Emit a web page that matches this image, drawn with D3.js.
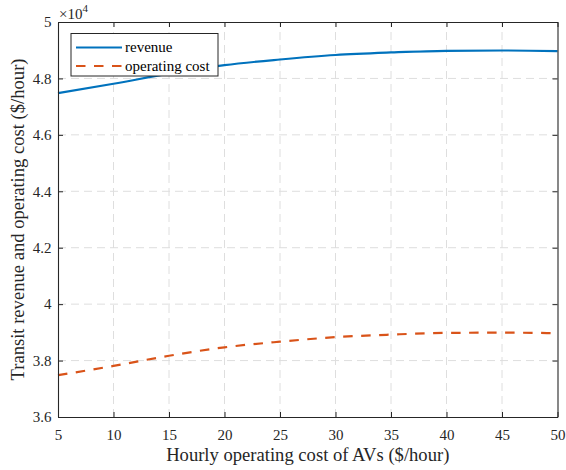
<!DOCTYPE html>
<html>
<head>
<meta charset="utf-8">
<script src="https://cdn.jsdelivr.net/npm/d3@7"></script>
<style>
  html, body { margin: 0; padding: 0; background: #fff; }
  svg { display: block; font-family: "Liberation Serif", "Times New Roman", serif; }
</style>
</head>
<body>
<svg id="chart" width="566" height="470"></svg>
<script>
// Hourly operating cost of AVs ($/hour)
const avCost = [5, 10, 15, 20, 25, 30, 35, 40, 45, 50];
// Transit revenue and operating cost, in units of 10^4 $/hour
const revenue = [4.748, 4.781, 4.817, 4.847, 4.867, 4.883, 4.892, 4.898, 4.899, 4.897];
const operatingCost = [3.748, 3.781, 3.817, 3.847, 3.867, 3.883, 3.892, 3.898, 3.899, 3.897];
const xTicks = [5, 10, 15, 20, 25, 30, 35, 40, 45, 50];
const yTicks = [3.6, 3.8, 4, 4.2, 4.4, 4.6, 4.8, 5];
const seriesNames = ["revenue", "operating cost"];

const svg = d3.select("#chart");
const margin = { left: 58, right: 8.5, top: 22, bottom: 53 };
const W = 566, H = 470;
const x0 = margin.left, x1 = W - margin.right, y0 = H - margin.bottom, y1 = margin.top;
const FONT = "Liberation Serif, Times New Roman, serif";

const x = d3.scaleLinear().domain([5, 50]).range([x0, x1]);
const y = d3.scaleLinear().domain([3.6, 5]).range([y0, y1]);

// grid
const grid = svg.append("g").attr("stroke", "#dedede").attr("stroke-width", 1)
  .attr("stroke-dasharray", "8,5");
grid.selectAll(".gx").data(xTicks.slice(1, -1)).join("line")
  .attr("x1", d => x(d)).attr("x2", d => x(d)).attr("y1", y0).attr("y2", y1);
grid.selectAll(".gy").data(yTicks.slice(1, -1)).join("line")
  .attr("y1", d => y(d)).attr("y2", d => y(d)).attr("x1", x0).attr("x2", x1);

// lines
const line = d3.line().x((d, i) => x(avCost[i])).y(d => y(d)).curve(d3.curveMonotoneX);
svg.append("path").datum(revenue).attr("d", line)
  .attr("fill", "none").attr("stroke", "#0072BD").attr("stroke-width", 2.2);
svg.append("path").datum(operatingCost).attr("d", line)
  .attr("fill", "none").attr("stroke", "#D95319").attr("stroke-width", 2.2)
  .attr("stroke-dasharray", "9.5,8.5");

// axes (box with inward ticks)
const axisColor = "#262626";
const fmt = d => d3.format("")(d);
const axBottom = svg.append("g").attr("transform", `translate(0,${y0})`)
  .call(d3.axisBottom(x).tickValues(xTicks).tickSizeInner(-5).tickSizeOuter(0).tickPadding(12).tickFormat(fmt));
const axTop = svg.append("g").attr("transform", `translate(0,${y1})`)
  .call(d3.axisTop(x).tickValues(xTicks).tickSizeInner(-5).tickSizeOuter(0).tickFormat(""));
const axLeft = svg.append("g").attr("transform", `translate(${x0},0)`)
  .call(d3.axisLeft(y).tickValues(yTicks).tickSizeInner(-5).tickSizeOuter(0).tickPadding(6.5).tickFormat(fmt));
const axRight = svg.append("g").attr("transform", `translate(${x1},0)`)
  .call(d3.axisRight(y).tickValues(yTicks).tickSizeInner(-5).tickSizeOuter(0).tickFormat(""));
[axBottom, axTop, axLeft, axRight].forEach(g => {
  g.attr("font-family", FONT).attr("font-size", 15);
  g.select(".domain").attr("stroke", axisColor).attr("stroke-width", 1.1);
  g.selectAll(".tick line").attr("stroke", axisColor).attr("stroke-width", 1);
  g.selectAll("text").attr("fill", "#262626");
});

// exponent label
const ex = svg.append("text").attr("x", x0 + 1).attr("y", 19)
  .attr("font-size", 15).attr("fill", "#262626");
ex.append("tspan").text("\u00d710");
ex.append("tspan").attr("dy", -7).attr("font-size", 11).text("4");

// axis titles
svg.append("text").attr("x", (x0 + x1) / 2).attr("y", 461)
  .attr("text-anchor", "middle").attr("font-size", 18.6).attr("fill", "#262626")
  .text("Hourly operating cost of AVs ($/hour)");
svg.append("text").attr("transform", `translate(24,${(y0 + y1) / 2}) rotate(-90)`)
  .attr("text-anchor", "middle").attr("font-size", 18.6).attr("fill", "#262626")
  .text("Transit revenue and operating cost ($/hour)");

// legend
const lg = svg.append("g");
lg.append("rect").attr("x", 71).attr("y", 33.5).attr("width", 147).attr("height", 42.5)
  .attr("fill", "#fff").attr("stroke", "#262626").attr("stroke-width", 1);
const legendColors = ["#0072BD", "#D95319"];
const legendDash = [null, "9.5,8.5"];
seriesNames.forEach((name, i) => {
  const ly = 47.5 + i * 18.5;
  lg.append("line").attr("x1", 76).attr("x2", 122).attr("y1", ly).attr("y2", ly)
    .attr("stroke", legendColors[i]).attr("stroke-width", 2.2)
    .attr("stroke-dasharray", legendDash[i]);
  lg.append("text").attr("x", 125).attr("y", ly + 4.5).attr("font-size", 15)
    .attr("fill", "#000").text(name);
});
</script>
</body>
</html>
